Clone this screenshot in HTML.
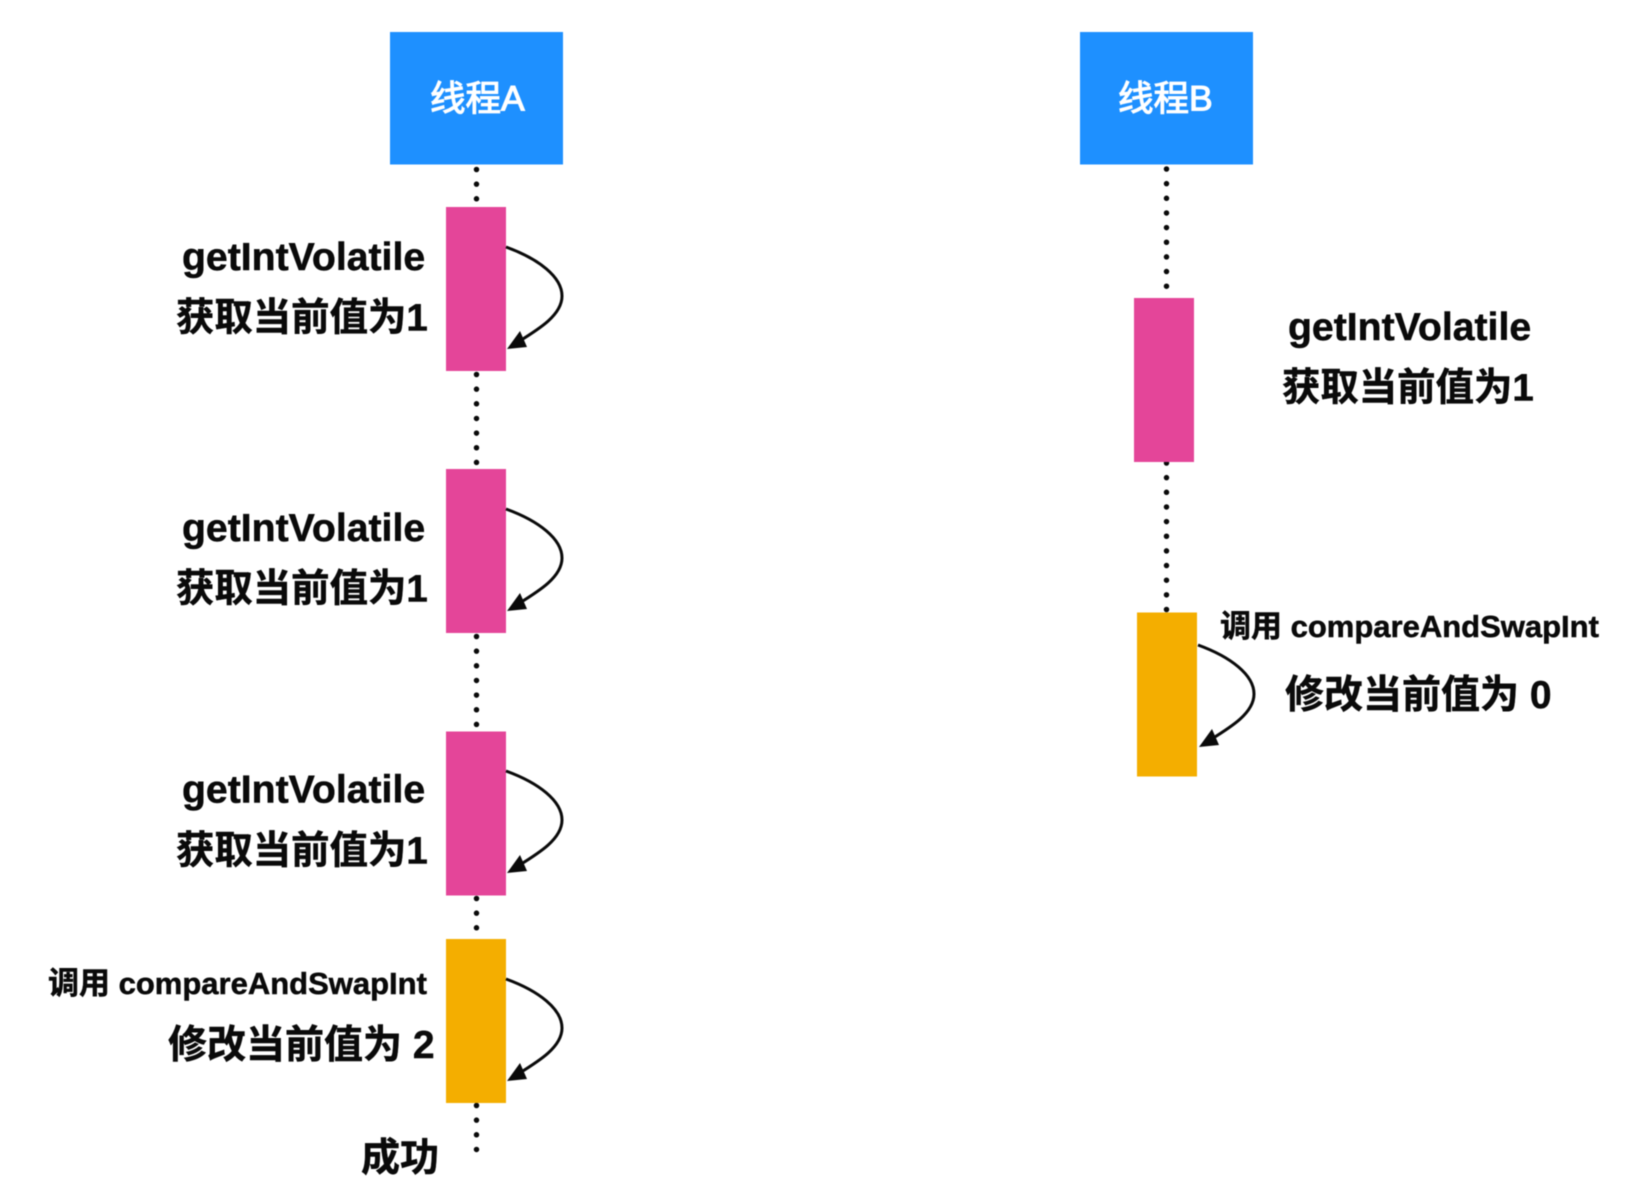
<!DOCTYPE html>
<html><head><meta charset="utf-8"><style>
html,body{margin:0;padding:0;background:#fff}
svg{display:block;filter:blur(0.4px)}
text{font-family:"Liberation Sans","Noto Sans CJK SC",sans-serif;font-weight:700;fill:#0a0a0a;stroke:#0a0a0a;stroke-width:.5px}
.t{font-size:38.4px}.g{font-size:39.2px}.m{font-size:39px}.s{font-size:31px}.h{font-size:35.5px;font-weight:400;fill:#fff;stroke:#fff;stroke-width:1.1px}
.d{stroke:#0a0a0a;stroke-width:5.5;stroke-linecap:round;stroke-dasharray:0 14.65;fill:none}
.a{stroke:#0a0a0a;stroke-width:3;fill:none}
</style></head><body>
<svg width="1630" height="1202" viewBox="0 0 1630 1202" xmlns="http://www.w3.org/2000/svg">
<defs>
<g id="arc"><path class="a" d="M506 40C539 52 562 70 562 89C562 108 539 122 518 135"/><path d="M507 142L520 124L527 140Z" fill="#0a0a0a"/></g>
</defs>
<rect width="1630" height="1202" fill="#fff"/>
<path class="d" d="M476.5 169.5V204M476.5 374.5V466M476.5 636.5V729M476.5 898.5V936M476.5 1105.5V1152"/>
<path class="d" d="M1166.5 169V300M1166.5 463V610"/>
<rect x="390" y="32" width="173" height="132.5" fill="#1e90ff"/>
<rect x="1080" y="32" width="173" height="132.5" fill="#1e90ff"/>
<text class="h" x="430" y="110.5">线程A</text>
<text class="h" x="1118" y="110.5">线程B</text>
<rect x="446" y="207" width="60" height="164" fill="#e44599"/>
<rect x="446" y="469" width="60" height="164" fill="#e44599"/>
<rect x="446" y="731.5" width="60" height="164" fill="#e44599"/>
<rect x="446" y="939" width="60" height="164" fill="#f4ae00"/>
<rect x="1134" y="298" width="60" height="164" fill="#e44599"/>
<rect x="1137" y="612.5" width="60" height="164" fill="#f4ae00"/>
<use href="#arc" y="207"/>
<use href="#arc" y="469"/>
<use href="#arc" y="731"/>
<use href="#arc" y="939"/>
<use href="#arc" x="692" y="605"/>
<text class="g" x="182" y="270">getIntVolatile</text>
<text class="t" x="176" y="330.5">获取当前值为1</text>
<text class="g" x="182" y="541">getIntVolatile</text>
<text class="t" x="176" y="601.5">获取当前值为1</text>
<text class="g" x="182" y="802.5">getIntVolatile</text>
<text class="t" x="176" y="863.5">获取当前值为1</text>
<text class="s" x="48" y="994">调用 compareAndSwapInt</text>
<text class="m" x="168" y="1058">修改当前值为 2</text>
<text class="m" x="361" y="1171">成功</text>
<text class="g" x="1288" y="340">getIntVolatile</text>
<text class="t" x="1282" y="400.5">获取当前值为1</text>
<text class="s" x="1220" y="637">调用 compareAndSwapInt</text>
<text class="m" x="1285" y="708">修改当前值为 0</text>
</svg>
</body></html>
